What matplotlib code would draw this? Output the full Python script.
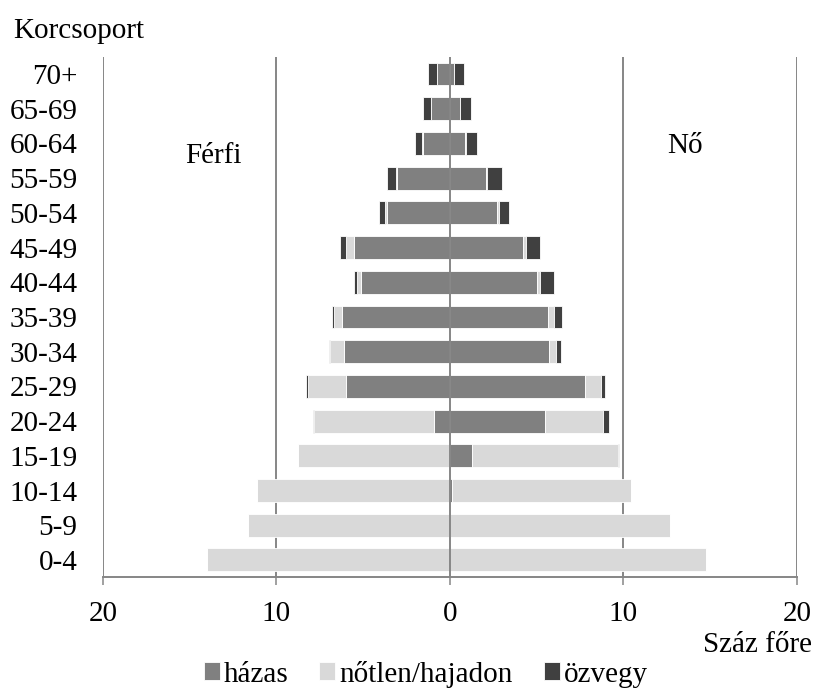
import matplotlib
matplotlib.use('Agg')
import matplotlib.pyplot as plt
import numpy as np

# age groups, bottom to top
age_groups = ['0-4', '5-9', '10-14', '15-19', '20-24', '25-29', '30-34',
              '35-39', '40-44', '45-49', '50-54', '55-59', '60-64', '65-69', '70+']

# men (per hundred)
male_married = [0, 0, 0, 0.04, 0.92, 5.99, 6.11, 6.21, 5.13, 5.53, 3.61, 3.04, 1.57, 1.11, 0.75]
male_single = [13.97, 11.61, 11.09, 8.70, 6.92, 2.21, 0.77, 0.46, 0.23, 0.48, 0.12, 0.08, 0.06, 0, 0]
male_widowed = [0, 0, 0, 0, 0.04, 0.08, 0.08, 0.15, 0.16, 0.31, 0.35, 0.50, 0.37, 0.46, 0.50]

# women
female_married = [0, 0, 0.10, 1.29, 5.49, 7.80, 5.72, 5.65, 5.03, 4.22, 2.73, 2.06, 0.86, 0.58, 0.25]
female_single = [14.74, 12.66, 10.32, 8.40, 3.31, 0.89, 0.37, 0.35, 0.14, 0.16, 0.08, 0.09, 0.06, 0, 0]
female_widowed = [0, 0, 0, 0.08, 0.36, 0.27, 0.31, 0.46, 0.81, 0.79, 0.59, 0.83, 0.62, 0.62, 0.58]

series_names = ['házas', 'nőtlen/hajadon', 'özvegy']
colors = ['#808080', '#d9d9d9', '#404040']
x_ticks = [-20, -10, 0, 10, 20]
x_ticklabels = ['20', '10', '0', '10', '20']

plt.rcParams['font.family'] = ['Liberation Serif', 'DejaVu Serif']
plt.rcParams['font.size'] = 21

fig = plt.figure(figsize=(8.14, 6.88), dpi=100)
ax = fig.add_axes([0.1263, 0.1609, 0.8528, 0.7567])

y = np.arange(len(age_groups))
grid_col = '#868686'
bar_h = 0.66

# men go to the left
m_parts = [np.array(male_married), np.array(male_single), np.array(male_widowed)]
f_parts = [np.array(female_married), np.array(female_single), np.array(female_widowed)]

left = np.zeros(len(age_groups))
for part, col in zip(m_parts, colors):
    ax.barh(y, -part, left=-left, height=bar_h, color=col,
            edgecolor='white', linewidth=0.6, zorder=2)
    left = left + part

left = np.zeros(len(age_groups))
handles = []
for part, col, name in zip(f_parts, colors, series_names):
    b = ax.barh(y, part, left=left, height=bar_h, color=col,
                edgecolor='white', linewidth=0.6, zorder=2, label=name)
    handles.append(b)
    left = left + part

# gridlines behind bars, zero line on top
for xv in x_ticks:
    if xv != 0:
        ax.axvline(xv, color=grid_col, lw=1.4, zorder=1)
ax.axvline(0, color=grid_col, lw=1.4, zorder=3)

ax.set_xlim(-20, 20)
ax.set_ylim(-0.5, 14.5)
ax.set_yticks(y)
ax.set_yticklabels(age_groups)
ax.set_xticks(x_ticks)
ax.set_xticklabels(x_ticklabels)

for s in ['top', 'left', 'right']:
    ax.spines[s].set_visible(False)
ax.spines['bottom'].set_color(grid_col)
ax.spines['bottom'].set_linewidth(1.4)
ax.tick_params(axis='y', length=0, pad=18.4)
ax.tick_params(axis='x', length=5.8, width=1.1, color=grid_col, pad=11)

ax.text(-13.6, 11.43, 'Férfi', ha='center', va='baseline')
ax.text(13.54, 11.72, 'Nő', ha='center', va='baseline')

fig.text(13 / 814, 1 - 38 / 688, 'Korcsoport', ha='left', va='baseline')
fig.text(812 / 814, 1 - 652 / 688, 'Száz főre', ha='right', va='baseline')

fig.legend(handles=handles, labels=series_names, loc='center',
           bbox_to_anchor=(426 / 814, 1 - 674 / 688), ncol=3, frameon=False,
           handlelength=0.55, handleheight=0.55, handletextpad=0.15,
           columnspacing=1.05, borderpad=0, borderaxespad=0)

fig.savefig('out.png', dpi=100)
